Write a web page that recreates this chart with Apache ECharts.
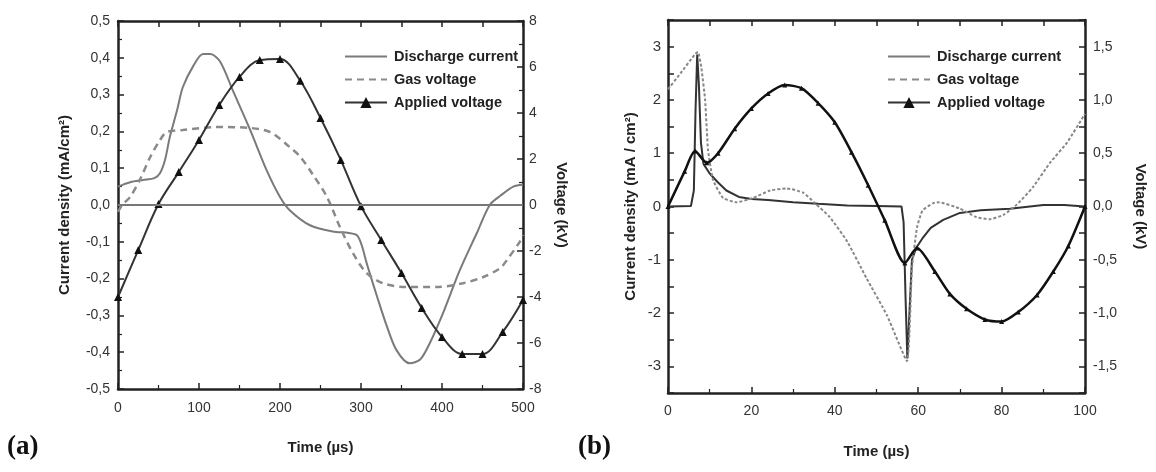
<!DOCTYPE html>
<html><head><meta charset="utf-8">
<script src="https://cdn.jsdelivr.net/npm/echarts@6/dist/echarts.min.js"></script>
<style>html,body{margin:0;padding:0;background:#fff}#c{width:1156px;height:472px}</style>
</head><body><div id="c"></div>
<script>
// ---------- Panel (a) : 0-500 µs ----------
const aCurT = [0,15,31,45,52,58,64,73,80,93,105,114,126,142,163,184,200,212,237,265,285,295,301,307,320,332,344,360,373,385,401,422,443,459,472,488,500];
const aCurV = [0.05,0.062,0.068,0.073,0.087,0.122,0.185,0.258,0.32,0.378,0.41,0.41,0.39,0.31,0.205,0.092,0.022,-0.014,-0.055,-0.072,-0.076,-0.082,-0.11,-0.158,-0.25,-0.33,-0.395,-0.43,-0.42,-0.375,-0.295,-0.177,-0.076,0.0,0.025,0.05,0.055];
const aGasT = [0,5,15,27,40,52,60,80,121,163,188,212,225,241,258,274,290,307,327,356,393,426,451,472,480,496,500];
const aGasV = [-0.3,0,0.35,1.1,2.1,2.83,3.17,3.26,3.39,3.35,3.17,2.52,2.1,1.3,0.35,-0.96,-2.09,-2.96,-3.4,-3.57,-3.57,-3.4,-3.13,-2.74,-2.4,-1.6,-1.3];
const aAppT = [0,25,50,75,100,125,150,175,200,225,250,275,300,325,350,375,400,425,450,475,500];
const aAppV = [-4.0,-1.96,0.04,1.43,2.83,4.35,5.57,6.3,6.35,5.4,3.78,1.96,-0.05,-1.52,-2.96,-4.48,-5.74,-6.48,-6.48,-5.52,-4.13];

// ---------- Panel (b) : 0-100 µs ----------
const bCurT = [0,5.5,6.2,6.6,7,7.4,7.9,8.5,10,12,14,17,20,24,30,36,43,50,56,56.5,57,57.4,57.9,58.5,59.5,61,63,66,70,75,82,90,95,100];
const bCurV = [0,0.01,0.3,1.8,2.85,2.3,1.2,0.8,0.62,0.45,0.3,0.18,0.14,0.12,0.08,0.05,0.02,0.01,0.0,-0.3,-1.8,-2.85,-2.0,-1.0,-0.78,-0.6,-0.4,-0.25,-0.12,-0.07,-0.04,0.03,0.03,0.0];
const bGasT = [0,3,6.5,7.2,8,8.9,9.6,10.8,13.2,16.5,20.4,24.5,28.5,32.4,35.3,38.8,43,47.7,52.5,57.3,58.5,59.7,61,63.5,65,70,74,77,80.4,83.7,87.5,91.6,95.7,100];
const bGasV = [1.1,1.25,1.43,1.45,1.3,1.0,0.53,0.25,0.08,0.04,0.08,0.15,0.17,0.13,0.03,-0.1,-0.33,-0.68,-1.02,-1.45,-0.58,-0.2,-0.04,0.03,0.04,-0.02,-0.1,-0.12,-0.08,0.02,0.18,0.41,0.6,0.87];
const bAppT = [0,4,6.5,9.3,12,16,20,24,28,32,36,40,44,48,52,56.8,59.7,64,67.6,71.6,76,80,84,88.5,92.4,96,100];
const bAppV = [0,0.33,0.52,0.41,0.5,0.73,0.92,1.06,1.14,1.11,0.97,0.79,0.51,0.2,-0.13,-0.53,-0.39,-0.61,-0.82,-0.96,-1.06,-1.08,-0.99,-0.83,-0.61,-0.37,0];

const names = ['Discharge current','Gas voltage','Applied voltage'];
const zip = (t, v) => t.map((x, i) => [x, v[i]]);

const FONT = '"Liberation Sans", Arial, sans-serif';
const AX = '#222';
const NONE = 'rgba(0,0,0,0)';
const comma1 = v => { const r = Math.round(v * 100) / 100; if (Math.abs(r) < 1e-9) return '0,0'; return r.toFixed(1).replace('.', ','); };

function axisBase(extra) {
  return Object.assign({
    type: 'value',
    splitLine: { show: false },
    axisLine: { show: true, onZero: false, lineStyle: { color: AX, width: 2.5 } },
    axisTick: { show: true, inside: true, length: 6, lineStyle: { color: AX, width: 1.5 } },
    axisLabel: { color: '#333', fontSize: 14, fontFamily: FONT },
    nameTextStyle: { color: '#222', fontSize: 15, fontWeight: 'bold', fontFamily: FONT },
    nameLocation: 'middle'
  }, extra);
}
const minorT = { show: true, splitNumber: 2, length: 4, lineStyle: { color: AX, width: 1.2 } };
const legendText = { fontSize: 14.5, fontWeight: 'bold', fontFamily: FONT, color: '#222', padding: [0,0,0,2] };

const option = {
  backgroundColor: '#fff',
  animation: false,
  title: [
    { text: '(a)', left: 7, top: 434, padding: 0, textStyle: { fontFamily: '"Liberation Serif", serif', fontWeight: 'bold', fontSize: 27, color: '#111' } },
    { text: '(b)', left: 578, top: 434, padding: 0, textStyle: { fontFamily: '"Liberation Serif", serif', fontWeight: 'bold', fontSize: 27, color: '#111' } }
  ],
  grid: [
    { left: 118, top: 21, width: 405, height: 368 },
    { left: 668, top: 20, width: 417, height: 373 }
  ],
  legend: [
    { data: names, orient: 'vertical', left: 339, top: 44, itemWidth: 42, itemHeight: 14, itemGap: 8, textStyle: legendText },
    { data: names, orient: 'vertical', left: 882, top: 44, itemWidth: 42, itemHeight: 14, itemGap: 8, textStyle: legendText }
  ],
  xAxis: [
    axisBase({ gridIndex: 0, position: 'bottom', min: 0, max: 500, interval: 100, minorTick: minorT,
      axisLabel: { color: '#333', fontSize: 14, fontFamily: FONT, margin: 12 },
      name: 'Time (µs)', nameGap: 51 }),
    axisBase({ gridIndex: 0, position: 'top', min: 0, max: 500, interval: 50, axisLabel: { show: false } }),
    axisBase({ gridIndex: 1, position: 'bottom', min: 0, max: 100, interval: 20, minorTick: minorT,
      axisLabel: { color: '#333', fontSize: 14, fontFamily: FONT, margin: 11 },
      name: 'Time (µs)', nameGap: 51 }),
    axisBase({ gridIndex: 1, position: 'top', min: 0, max: 100, interval: 10, axisLabel: { show: false } })
  ],
  yAxis: [
    axisBase({ gridIndex: 0, position: 'left', min: -0.5, max: 0.5, interval: 0.1, minorTick: minorT,
      axisLabel: { color: '#333', fontSize: 14, fontFamily: FONT, margin: 8, formatter: comma1 },
      name: 'Current density (mA/cm²)', nameGap: 46, nameRotate: 90 }),
    axisBase({ gridIndex: 0, position: 'right', min: -8, max: 8, interval: 2, minorTick: minorT,
      axisLabel: { color: '#333', fontSize: 14, fontFamily: FONT, margin: 6 },
      name: 'Voltage (kV)', nameGap: 31, nameRotate: -90 }),
    axisBase({ gridIndex: 1, position: 'left', min: -3.5, max: 3.5, interval: 0.5,
      axisLabel: { color: '#333', fontSize: 15, fontFamily: FONT, margin: 7,
        formatter: v => { const r = Math.round(v * 1000) / 1000; return Number.isInteger(r) ? String(r) : ''; } },
      name: 'Current density (mA / cm²)', nameGap: 30, nameRotate: 90 }),
    axisBase({ gridIndex: 1, position: 'right', min: -1.75, max: 1.75, interval: 0.25,
      axisLabel: { color: '#333', fontSize: 14, fontFamily: FONT, margin: 8,
        formatter: v => { const r = Math.round(v * 100) / 100; return Math.abs(r * 2 - Math.round(r * 2)) < 1e-6 ? comma1(r) : ''; } },
      name: 'Voltage (kV)', nameGap: 48, nameRotate: -90 })
  ],
  series: [
    { name: names[0], type: 'line', xAxisIndex: 0, yAxisIndex: 0, data: zip(aCurT, aCurV), smooth: 0.3,
      symbol: 'none', lineStyle: { color: '#7a7a7a', width: 2 }, itemStyle: { color: NONE, borderWidth: 0 }, z: 3,
      markLine: { silent: true, symbol: 'none', label: { show: false }, lineStyle: { color: '#777', width: 2, type: 'solid' },
        data: [{ yAxis: 0 }] } },
    { name: names[1], type: 'line', xAxisIndex: 0, yAxisIndex: 1, data: zip(aGasT, aGasV), smooth: 0.3,
      symbol: 'none', lineStyle: { color: '#8a8a8a', width: 2.5, type: [7, 5] }, itemStyle: { color: NONE, borderWidth: 0 }, z: 3 },
    { name: names[2], type: 'line', xAxisIndex: 0, yAxisIndex: 1, data: zip(aAppT, aAppV), smooth: 0.35,
      symbol: 'triangle', symbolSize: 8, lineStyle: { color: '#333', width: 2 }, itemStyle: { color: '#111' }, z: 4 },

    { name: names[0], type: 'line', xAxisIndex: 2, yAxisIndex: 2, data: zip(bCurT, bCurV), smooth: false,
      symbol: 'none', lineStyle: { color: '#333', width: 2 }, itemStyle: { color: NONE, borderWidth: 0 }, z: 3 },
    { name: names[1], type: 'line', xAxisIndex: 2, yAxisIndex: 3, data: zip(bGasT, bGasV), smooth: 0.15,
      symbol: 'none', lineStyle: { color: '#888', width: 2, type: [3, 2] }, itemStyle: { color: NONE, borderWidth: 0 }, z: 3 },
    { name: names[2], type: 'line', xAxisIndex: 2, yAxisIndex: 3, data: zip(bAppT, bAppV), smooth: 0.25,
      symbol: 'triangle', symbolSize: 5, lineStyle: { color: '#111', width: 2.5 }, itemStyle: { color: '#111' }, z: 4 }
  ]
};
const chart = echarts.init(document.getElementById('c'), null, { renderer: 'canvas' });
chart.setOption(option);
</script>
</body></html>
